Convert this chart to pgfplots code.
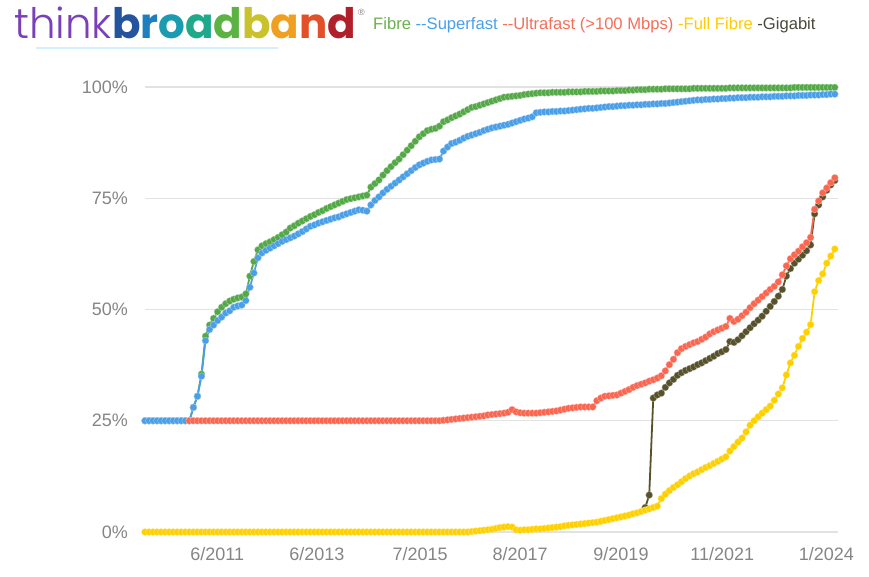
\documentclass[border=0pt]{standalone}
\usepackage{fontspec}
\setmainfont{Liberation Sans}
\newfontfamily\logofont{Poppins}
\newfontfamily\logolight{Poppins}[UprightFont=* Light]
\usepackage{pgfplots}
\usepackage{pgfplotstable}
\pgfplotsset{compat=1.18}
\definecolor{cfib}{HTML}{55A847}
\definecolor{csup}{HTML}{4A9FE8}
\definecolor{cult}{HTML}{FA6650}
\definecolor{cful}{HTML}{FFD000}
\definecolor{cgig}{HTML}{57522B}
\definecolor{lfib}{HTML}{6AB04C}
\definecolor{lsup}{HTML}{4AA0E6}
\definecolor{lult}{HTML}{F46E5A}
\definecolor{lful}{HTML}{FFCC00}
\definecolor{lgig}{HTML}{4A4A3A}
\definecolor{labgray}{HTML}{858585}
\definecolor{gridgray}{HTML}{E2E2E2}
\definecolor{tbpurple}{HTML}{7B3FB8}
\definecolor{bA}{HTML}{24549E}
\definecolor{bB}{HTML}{1E7FC0}
\definecolor{bC}{HTML}{1A9BB0}
\definecolor{bD}{HTML}{1FA88A}
\definecolor{bE}{HTML}{5CB343}
\definecolor{bF}{HTML}{C9C22C}
\definecolor{bG}{HTML}{F0A020}
\definecolor{bH}{HTML}{E2502A}
\definecolor{bI}{HTML}{B0202A}
\pgfplotstableread{
m gb fi sf uf ff
0 nan 25 25 nan 0
1 nan 25 25 nan 0
2 nan 25 25 nan 0
3 nan 25 25 nan 0
4 nan 25 25 nan 0
5 nan 25 25 nan 0
6 nan 25 25 nan 0
7 nan 25 25 nan 0
8 nan 25 25 nan 0
9 nan 25 25 nan 0
10 nan 25 25 nan 0
11 nan 25 25 25 0
12 nan 28 28 25 0
13 nan 30.5 30.5 25 0
14 nan 35.5 35 25 0
15 nan 44 43 25 0
16 nan 46.5 45.5 25 0
17 nan 48 46.5 25 0
18 nan 49.5 47.5 25 0
19 nan 50.5 48.3 25 0
20 nan 51.3 49.2 25 0
21 nan 51.9 49.7 25 0
22 nan 52.3 50.5 25 0
23 nan 52.6 50.8 25 0
24 nan 52.8 51 25 0
25 nan 53.5 52 25 0
26 nan 57.5 55 25 0
27 nan 60.8 58.2 25 0
28 nan 63.4 61.6 25 0
29 nan 64.3 62.7 25 0
30 nan 64.8 63.3 25 0
31 nan 65.2 63.8 25 0
32 nan 65.7 64.3 25 0
33 nan 66.2 64.8 25 0
34 nan 66.8 65.3 25 0
35 nan 67.4 65.7 25 0
36 nan 68.3 66.1 25 0
37 nan 68.8 66.5 25 0
38 nan 69.4 67 25 0
39 nan 69.9 67.5 25 0
40 nan 70.4 68.1 25 0
41 nan 70.9 68.7 25 0
42 nan 71.3 69 25 0
43 nan 71.8 69.4 25 0
44 nan 72.2 69.7 25 0
45 nan 72.7 70 25 0
46 nan 73.1 70.3 25 0
47 nan 73.5 70.6 25 0
48 nan 73.9 70.8 25 0
49 nan 74.3 71.2 25 0
50 nan 74.7 71.5 25 0
51 nan 74.9 71.8 25 0
52 nan 75.1 72.1 25 0
53 nan 75.3 72.4 25 0
54 nan 75.5 72.3 25 0
55 nan 75.7 72.1 25 0
56 nan 77.5 73.5 25 0
57 nan 78.3 74.5 25 0
58 nan 79.1 75.3 25 0
59 nan 80.2 76.2 25 0
60 nan 81.2 77 25 0
61 nan 82.1 77.7 25 0
62 nan 83 78.4 25 0
63 nan 83.8 79.1 25 0
64 nan 84.8 79.8 25 0
65 nan 85.8 80.5 25 0
66 nan 86.8 81.2 25 0
67 nan 87.8 81.9 25 0
68 nan 88.8 82.5 25 0
69 nan 89.5 82.9 25 0
70 nan 90.2 83.3 25 0
71 nan 90.5 83.6 25 0
72 nan 90.7 83.7 25 0
73 nan 91.2 83.8 25 0
74 nan 92.2 85.6 25.1 0
75 nan 92.6 86.5 25.2 0
76 nan 93.1 87.3 25.3 0
77 nan 93.5 87.6 25.4 0
78 nan 93.9 88 25.5 0
79 nan 94.4 88.5 25.6 0
80 nan 94.9 88.9 25.7 0
81 nan 95.4 89.2 25.8 0.1
82 nan 95.6 89.5 25.9 0.2
83 nan 95.9 89.8 26 0.3
84 nan 96.2 90.2 26.1 0.4
85 nan 96.5 90.5 26.3 0.5
86 nan 96.8 90.8 26.4 0.6
87 nan 97.1 91 26.5 0.8
88 nan 97.4 91.2 26.6 1
89 nan 97.7 91.4 26.7 1.1
90 nan 97.8 91.6 26.9 1.2
91 nan 97.9 91.9 27.5 1.1
92 nan 98 92.2 27 0.5
93 nan 98.1 92.5 26.8 0.4
94 nan 98.3 92.8 26.7 0.5
95 nan 98.4 93 26.7 0.5
96 nan 98.5 93.3 26.7 0.6
97 nan 98.6 94.2 26.7 0.7
98 nan 98.7 94.3 26.8 0.7
99 nan 98.7 94.4 26.9 0.8
100 nan 98.7 94.4 27 0.9
101 nan 98.8 94.5 27.1 1
102 nan 98.8 94.5 27.2 1.1
103 nan 98.8 94.6 27.4 1.2
104 nan 98.8 94.6 27.6 1.4
105 nan 98.9 94.7 27.8 1.5
106 nan 98.9 94.8 27.9 1.6
107 nan 98.9 94.9 28 1.7
108 nan 98.9 95 28.1 1.8
109 nan 99 95.1 28.1 1.9
110 nan 99 95.2 28.1 2
111 nan 99 95.2 28.1 2.1
112 nan 99 95.3 29.5 2.2
113 nan 99.1 95.4 30.1 2.4
114 nan 99.1 95.5 30.5 2.6
115 nan 99.1 95.6 30.6 2.8
116 nan 99.1 95.6 30.7 3
117 nan 99.2 95.7 30.8 3.2
118 nan 99.2 95.8 31.2 3.4
119 nan 99.2 95.8 31.6 3.6
120 nan 99.3 95.9 32 3.8
121 nan 99.3 95.9 32.5 4.1
122 nan 99.4 96 32.9 4.3
123 nan 99.4 96 33.2 4.6
124 5.5 99.4 96.1 33.5 4.9
125 8.3 99.5 96.1 33.9 5.2
126 30.1 99.5 96.2 34.2 5.5
127 30.8 99.5 96.2 34.6 5.8
128 31.2 99.5 96.3 35.1 7.5
129 32.5 99.6 96.3 36.2 8.5
130 33.5 99.6 96.4 37.6 9.3
131 34.3 99.6 96.5 38.8 10
132 35.2 99.6 96.6 40.3 10.6
133 35.8 99.6 96.7 41.2 11.3
134 36.3 99.6 96.8 41.7 12
135 36.7 99.6 96.9 42.1 12.6
136 37.1 99.7 97 42.5 13.1
137 37.6 99.7 97.1 42.8 13.5
138 38 99.7 97.1 43.3 14
139 38.5 99.7 97.2 43.8 14.5
140 39 99.7 97.2 44.5 14.9
141 39.5 99.7 97.3 45 15.4
142 40.1 99.7 97.3 45.4 15.9
143 40.5 99.7 97.4 45.8 16.4
144 41 99.7 97.4 46.2 16.9
145 42.8 99.8 97.5 48 18.2
146 42.6 99.8 97.5 47.3 19.2
147 43.2 99.8 97.6 47.8 20.2
148 44.1 99.8 97.6 48.6 21.1
149 45 99.8 97.6 49.4 22.5
150 45.9 99.8 97.7 50.4 24
151 46.8 99.8 97.7 51.3 25
152 47.6 99.8 97.7 52.1 25.9
153 48.5 99.8 97.8 52.9 26.7
154 49.6 99.8 97.8 53.7 27.5
155 50.7 99.8 97.8 54.5 28.3
156 51.8 99.8 97.9 55.2 29.6
157 53 99.8 97.9 56.2 31
158 54.5 99.8 97.9 57.8 32.4
159 57.5 99.8 98 59.8 35.3
160 59.2 99.8 98 61.4 38
161 60.4 99.9 98 62.3 39.7
162 61.3 99.9 98.1 63.1 41.7
163 62.2 99.9 98.1 64.1 43.5
164 63.2 99.9 98.1 65 44.9
165 64.5 99.9 98.2 66.2 46.6
166 71.5 99.9 98.2 72.5 54
167 73.5 99.9 98.2 74.4 56.5
168 75.3 99.9 98.3 76.2 58
169 76.8 99.9 98.3 77.3 60.4
170 78 99.9 98.4 78.5 62
171 79 99.9 98.4 79.6 63.6
}\data
\pgfplotsset{
  ser/.style={line width=1.8pt, color=#1, mark=*, mark size=3.5pt,
    mark options={fill=#1, draw=white!55!#1, line width=0.3pt}},
}
\begin{document}
\begin{tikzpicture}
\path[use as bounding box] (0,0) rectangle (869pt,577pt);
\node[anchor=base west, inner sep=0pt, font=\fontsize{42}{42}\selectfont] at (14pt,538pt)
  {\logolight\color{tbpurple}think\logofont\bfseries\color{bA}b\color{bB}r\color{bC}o\color{bD}a\color{bE}d\color{bF}b\color{bG}a\color{bH}n\color{bI}d};
\node[anchor=base west, inner sep=0pt, font=\fontsize{9}{9}\selectfont, text=gray] at (358pt,561pt) {\textregistered};
\draw[cyan!18, line width=2pt] (36pt,529pt) -- (278pt,529pt);
\node[anchor=base west, inner sep=0pt, font=\fontsize{16.6}{16.6}\selectfont] at (373pt,547pt)
  {\color{lfib}Fibre \color{lsup}-{}-Superfast \color{lult}-{}-Ultrafast (>100 Mbps) \color{lful}-Full Fibre \color{lgig}-Gigabit};
\begin{axis}[at={(145pt,45pt)}, anchor=south west, scale only axis,
  width=693pt, height=445pt,
  xmin=0, xmax=171.8, ymin=0, ymax=100, clip=false,
  axis line style={draw=none}, tick style={draw=none},
  ymajorgrids, major grid style={draw=gridgray, line width=1.3pt},
  ytick={0,25,50,75,100}, yticklabels={0\%,25\%,50\%,75\%,100\%},
  xtick={17.9,42.6,68.2,93,118,143.1,168.9},
  xticklabels={6/2011,6/2013,7/2015,8/2017,9/2019,11/2021,1/2024},
  tick label style={font=\fontsize{18}{18}\selectfont, text=labgray, inner sep=0pt},
  yticklabel style={anchor=east, xshift=-17pt},
  xticklabel style={anchor=north, yshift=-15pt},
]
\addplot[ser=cgig] table[x=m, y=gb]{\data};
\addplot[ser=cfib] table[x=m, y=fi]{\data};
\addplot[ser=csup] table[x=m, y=sf]{\data};
\addplot[ser=cult] table[x=m, y=uf]{\data};
\addplot[ser=cful] table[x=m, y=ff]{\data};
\end{axis}
\end{tikzpicture}
\end{document}
